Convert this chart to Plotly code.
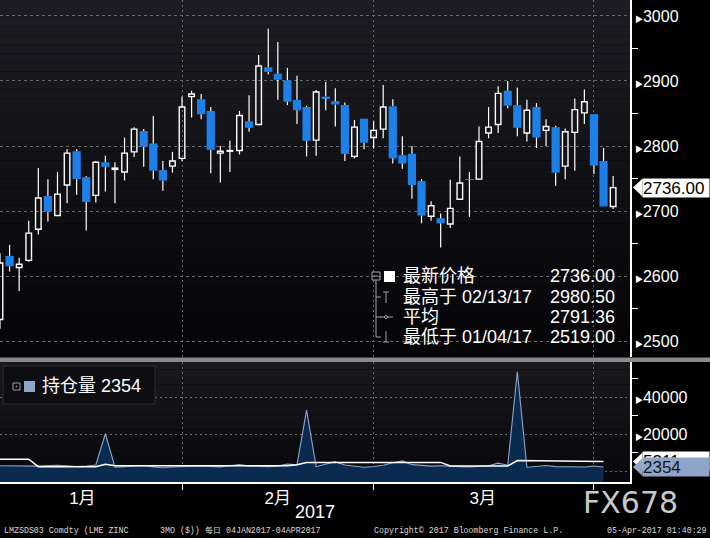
import plotly.graph_objects as go
import pandas as pd

# ---------------- data ----------------
dates = [d.strftime("%m/%d/%y") for d in pd.bdate_range("2017-01-04", "2017-04-04")]
opens = [2533, 2631, 2613, 2624, 2672, 2723, 2693, 2740, 2792, 2752,
         2724, 2775, 2764, 2760, 2791, 2823, 2804, 2763, 2769, 2781,
         2876, 2872, 2854, 2789, 2792, 2793, 2838, 2833, 2921, 2911,
         2901, 2871, 2860, 2809, 2876, 2869, 2863, 2784, 2842, 2813,
         2826, 2861, 2786, 2788, 2746, 2692, 2689, 2680, 2718, 2749,
         2749, 2820, 2833, 2885, 2863, 2820, 2860, 2824, 2829, 2769,
         2821, 2851, 2849, 2777, 2707]
highs = [2635, 2648, 2628, 2685, 2766, 2749, 2760, 2795, 2795, 2754,
         2777, 2785, 2775, 2813, 2829, 2826, 2846, 2777, 2791, 2876,
         2885, 2880, 2860, 2800, 2808, 2854, 2878, 2940, 2980.5, 2960,
         2920, 2908, 2862, 2886, 2899, 2889, 2867, 2840, 2842, 2838,
         2894, 2872, 2815, 2800, 2749, 2715, 2696, 2748, 2784, 2760,
         2830, 2860, 2892, 2900, 2890, 2871, 2866, 2841, 2831, 2827,
         2873, 2887, 2849, 2797, 2754]
lows = [2519, 2607, 2577, 2622, 2664, 2684, 2692, 2712, 2725, 2670,
        2713, 2730, 2712, 2747, 2783, 2768, 2749, 2731, 2759, 2777,
        2844, 2841, 2758, 2744, 2760, 2787, 2822, 2832, 2910, 2871,
        2863, 2834, 2784, 2785, 2855, 2830, 2777, 2781, 2795, 2796,
        2812, 2773, 2765, 2719, 2681, 2685, 2644, 2674, 2718, 2691,
        2748, 2812, 2820, 2858, 2815, 2807, 2797, 2800, 2739, 2749,
        2762, 2834, 2757, 2707, 2703]
closes = [2620, 2615, 2618, 2666, 2720, 2699, 2726, 2789, 2749, 2714,
          2775, 2768, 2766, 2789, 2826, 2799, 2762, 2747, 2777, 2860,
          2880, 2849, 2794, 2792, 2793, 2847, 2828, 2923, 2914, 2902,
          2868, 2855, 2808, 2883, 2873, 2864, 2788, 2829, 2805, 2824,
          2860, 2781, 2773, 2740, 2693, 2708, 2681, 2704, 2743, 2748,
          2807, 2829, 2881, 2862, 2828, 2855, 2813, 2830, 2759, 2822,
          2856, 2868, 2770, 2707, 2736]
# open interest (持仓量), first 64 sessions
open_interest = [3000, 2900, 2700, 2500, 2800, 3100, 3300, 3000, 2600, 2800,
                 3400, 20300, 2200, 2500, 2700, 3100, 2400, 1900, 2300, 2600,
                 2500, 2900, 2600, 2400, 3000, 3600, 2800, 2600, 2500, 2800,
                 3900, 3500, 33100, 2500, 3800, 5200, 3400, 2700, 2200, 2600,
                 3300, 4600, 5600, 3600, 3200, 2800, 3000, 2600, 2500, 2300,
                 2600, 3000, 4400, 3300, 53800, 2200, 2600, 3100, 2500, 2300,
                 2400, 2300, 2900, 2354]
oi_ref = [6500, 6500, 6500, 6500, 2500, 2500, 2500, 2500, 2500, 2500,
          2500, 3800, 3000, 3000, 3000, 3000, 3000, 3000, 3000, 3000,
          3000, 3000, 3000, 3000, 3000, 3000, 3000, 3000, 3000, 3000,
          3000, 3500, 4800, 4800, 4800, 4800, 4800, 4800, 4800, 4800,
          4800, 4800, 4800, 4800, 4800, 4800, 4800, 2900, 2900, 2900,
          2900, 2900, 2900, 2900, 5800, 5700, 5600, 5600, 5600, 5500,
          5500, 5400, 5311, 5311]
avg_label = 2791.36
month_labels = ["1月", "2月", "3月"]
month_label_pos = [8.6, 29.0, 50.4]
month_end_pos = [19, 39, 62]
price_ticks = [2500, 2600, 2700, 2800, 2900, 3000]
price_minor = [2550, 2650, 2750, 2850, 2950]
oi_ticks = [0, 20000, 40000]
oi_minor = [10000, 30000, 50000]

# ---------------- layout geometry ----------------
W, H = 710, 538
ML, MR, MT, MB = 0, 80, 0, 56
PW, PH = W - ML - MR, H - MT - MB


def px(x):
    return (x - ML) / PW


def py(y):
    return 1 - (y - MT) / PH


FONT = "Liberation Sans, Noto Sans CJK SC, sans-serif"
BLUE = "#1d7fe8"
xs = list(range(len(dates)))
price_range = [2475.4, 3024.6]
oi_range = [-5784, 59080]

fig = go.Figure()

# wicks (split so they never cross the hollow bodies)
wx, wy = [], []
for i in xs:
    top = max(opens[i], closes[i])
    bot = min(opens[i], closes[i])
    wx += [i, i, None, i, i, None]
    wy += [highs[i], top, None, bot, lows[i], None]
fig.add_trace(go.Scatter(x=wx, y=wy, mode="lines", line=dict(color="white", width=1.2),
                         hoverinfo="skip", showlegend=False, xaxis="x", yaxis="y"))

inc = [i for i in xs if closes[i] >= opens[i]]
dec = [i for i in xs if closes[i] < opens[i]]
fig.add_trace(go.Bar(x=inc, base=[opens[i] for i in inc], y=[closes[i] - opens[i] for i in inc],
                     width=0.58, marker=dict(color="rgba(0,0,0,0)", line=dict(color="white", width=1.4)),
                     customdata=[dates[i] for i in inc], hovertemplate="%{customdata}<extra></extra>",
                     showlegend=False, xaxis="x", yaxis="y"))
fig.add_trace(go.Bar(x=dec, base=[closes[i] for i in dec], y=[opens[i] - closes[i] for i in dec],
                     width=0.86, marker=dict(color=BLUE, line=dict(width=0)),
                     customdata=[dates[i] for i in dec], hovertemplate="%{customdata}<extra></extra>",
                     showlegend=False, xaxis="x", yaxis="y"))

# lower panel: open interest area
oi_x = xs[:len(open_interest)]
fig.add_trace(go.Scatter(x=oi_x, y=[oi_range[0]] * len(oi_x), mode="lines", line=dict(width=0),
                         hoverinfo="skip", showlegend=False, xaxis="x2", yaxis="y2"))
fig.add_trace(go.Scatter(x=oi_x, y=open_interest, mode="lines", fill="tonexty",
                         fillcolor="#0b2a50", line=dict(color="#8ea5c7", width=1.1),
                         showlegend=False, xaxis="x2", yaxis="y2"))
fig.add_trace(go.Scatter(x=oi_x, y=oi_ref, mode="lines", line=dict(color="white", width=1.5),
                         showlegend=False, xaxis="x2", yaxis="y2"))

tri = '<span style="font-size:8px">▶</span>'
grid_col = "#6a6a6a"

fig.update_layout(
    width=W, height=H, margin=dict(l=ML, r=MR, t=MT, b=MB),
    paper_bgcolor="black", plot_bgcolor="rgba(0,0,0,0)",
    barmode="overlay", showlegend=False,
    font=dict(family=FONT, color="white", size=16),
    xaxis=dict(domain=[0, 1], anchor="y", range=[0, PW / 9.58], showticklabels=False,
               tickvals=month_label_pos, ticks="", showgrid=False, zeroline=False,
               minor=dict(tickmode="array", tickvals=month_end_pos, showgrid=True,
                          gridcolor=grid_col, griddash="2px,3px", gridwidth=1, ticks="")),
    xaxis2=dict(domain=[0, 1], anchor="y2", matches="x", tickvals=month_label_pos,
                ticktext=month_labels, ticks="", showgrid=False, zeroline=False,
                tickfont=dict(size=17, color="white", family=FONT),
                showline=True, linecolor="white", linewidth=1.5,
                minor=dict(tickmode="array", tickvals=month_end_pos, showgrid=True,
                           gridcolor=grid_col, griddash="2px,3px", gridwidth=1,
                           ticks="outside", ticklen=6, tickcolor="white", tickwidth=1)),
    yaxis=dict(domain=[py(357), 1], anchor="x", side="right", range=price_range,
               tickvals=price_ticks, ticktext=[tri + str(v) for v in price_ticks],
               ticks="", showgrid=True, gridcolor=grid_col, griddash="3px,3px", gridwidth=1,
               zeroline=False, showline=True, linecolor="white", linewidth=1.5,
               tickfont=dict(size=16, color="white", family=FONT),
               minor=dict(tickmode="array", tickvals=price_minor, ticks="outside",
                          ticklen=6, tickcolor="white", tickwidth=1, showgrid=False)),
    yaxis2=dict(domain=[0, py(362)], anchor="x2", side="right", range=oi_range,
                tickvals=oi_ticks, ticktext=["" if v == 0 else tri + str(v) for v in oi_ticks],
                ticks="", showgrid=True, gridcolor=grid_col, griddash="2px,3px", gridwidth=1,
                zeroline=False, showline=True, linecolor="white", linewidth=1.5,
                tickfont=dict(size=16, color="white", family=FONT),
                minor=dict(tickmode="array", tickvals=oi_minor, ticks="outside",
                           ticklen=6, tickcolor="white", tickwidth=1, showgrid=False)),
)

shapes = []


def band(y0, y1, c0, c1, n):
    out = []
    for k in range(n):
        t = k / (n - 1)
        c = tuple(int(round(c0[j] + (c1[j] - c0[j]) * t)) for j in range(3))
        ya = y0 + (y1 - y0) * k / n
        yb = y0 + (y1 - y0) * (k + 1) / n
        out.append(dict(type="rect", xref="paper", yref="paper", x0=px(0), x1=px(630),
                        y0=py(yb), y1=py(ya), fillcolor="rgb(%d,%d,%d)" % c,
                        line=dict(width=0), layer="below"))
    return out


shapes += band(0, 357, (28, 28, 34), (5, 5, 8), 40)
shapes += band(362, 482, (24, 24, 29), (9, 9, 13), 16)
# separator band
shapes.append(dict(type="rect", xref="paper", yref="paper", x0=px(0), x1=px(710),
                   y0=py(362), y1=py(357.5), fillcolor="#8a8a8a", line=dict(width=0), layer="above"))

# lower legend box
shapes.append(dict(type="rect", xref="paper", yref="paper", x0=px(3), x1=px(155), y0=py(404), y1=py(366),
                   fillcolor="#0e0e12", line=dict(color="#2c2c32", width=1), layer="above"))
shapes.append(dict(type="rect", xref="paper", yref="paper", x0=px(13), x1=px(20), y0=py(390), y1=py(383),
                   line=dict(color="#9a9a9a", width=1), layer="above"))
shapes.append(dict(type="rect", xref="paper", yref="paper", x0=px(15.8), x1=px(17.2), y0=py(387.2), y1=py(385.8),
                   fillcolor="#9a9a9a", line=dict(width=0), layer="above"))
shapes.append(dict(type="rect", xref="paper", yref="paper", x0=px(24), x1=px(35), y0=py(392), y1=py(381),
                   fillcolor="#8ea5c7", line=dict(width=0), layer="above"))

# upper legend glyphs
G = "#a0a0a0"
rows = [276, 297, 317, 337]


def seg(x0, y0, x1, y1, col=G, w=1):
    return dict(type="line", xref="paper", yref="paper", x0=px(x0), y0=py(y0), x1=px(x1), y1=py(y1),
                line=dict(color=col, width=w), layer="above")


shapes.append(dict(type="rect", xref="paper", yref="paper", x0=px(372), x1=px(380), y0=py(280), y1=py(272),
                   line=dict(color=G, width=1), layer="above"))
shapes.append(seg(374, 276, 378, 276))
shapes.append(dict(type="rect", xref="paper", yref="paper", x0=px(384), x1=px(395), y0=py(282), y1=py(271),
                   fillcolor="white", line=dict(width=0), layer="above"))
shapes.append(seg(376, 280, 376, 337))
for r in rows[1:]:
    shapes.append(seg(376, r, 381, r))
shapes.append(seg(386, 292, 386, 303))
shapes.append(seg(383, 292, 389, 292))
shapes.append(seg(380, 317, 393, 317))
shapes.append(dict(type="circle", xref="paper", yref="paper", x0=px(384.5), x1=px(387.5), y0=py(318.5), y1=py(315.5),
                   fillcolor="#0a0a0e", line=dict(color=G, width=1), layer="above"))
shapes.append(seg(386, 331, 386, 342))
shapes.append(seg(383, 342, 389, 342))

# price tags (pointer triangles)
last_close = closes[-1]
tag_h_price = 9 * (price_range[1] - price_range[0]) / 357
tag_h_oi = 9 * (oi_range[1] - oi_range[0]) / 120


def pointer(yref, yc, hh, col):
    return dict(type="path", xref="paper", yref=yref,
                path="M %f,%f L %f,%f L %f,%f Z" % (px(633), yc, px(642.5), yc + hh, px(642.5), yc - hh),
                fillcolor=col, line=dict(width=0), layer="above")


shapes.append(pointer("y", last_close, tag_h_price, "white"))
shapes.append(pointer("y2", oi_ref[-1], tag_h_oi, "white"))
shapes.append(pointer("y2", open_interest[-1], tag_h_oi, "#8ea5c7"))

fig.update_layout(shapes=shapes)

ann = []


def txt(x, y, s, size=18, color="white", xanchor="left", family=FONT):
    ann.append(dict(xref="paper", yref="paper", x=px(x), y=py(y), text=s, showarrow=False,
                    xanchor=xanchor, yanchor="middle", font=dict(size=size, color=color, family=family)))


hi_i = highs.index(max(highs))
lo_i = lows.index(min(lows))
txt(401, rows[0], "最新价格")
txt(617, rows[0], "%.2f" % last_close, xanchor="right")
txt(401, rows[1], "最高于 %s" % dates[hi_i])
txt(617, rows[1], "%.2f" % max(highs), xanchor="right")
txt(401, rows[2], "平均")
txt(617, rows[2], "%.2f" % avg_label, xanchor="right")
txt(401, rows[3], "最低于 %s" % dates[lo_i])
txt(617, rows[3], "%.2f" % min(lows), xanchor="right")
txt(40, 386, "持仓量 %d" % open_interest[-1], size=18)


def tag(yref, yv, s, bg, fg):
    ann.append(dict(xref="paper", yref=yref, x=px(642), y=yv, text=s, showarrow=False,
                    xanchor="left", yanchor="middle", align="left", width=66, height=18,
                    bgcolor=bg, borderpad=0, font=dict(size=17, color=fg, family=FONT)))


tag("y", last_close, "%.2f" % last_close, "white", "black")
tag("y2", oi_ref[-1], "%d" % oi_ref[-1], "white", "black")
tag("y2", open_interest[-1], "%d" % open_interest[-1], "#8ea5c7", "#15151c")

txt(315, 512, "2017", size=18, xanchor="center")
txt(630, 502, "FX678", size=30, color="#c8c8c8", xanchor="center", family="DejaVu Sans, sans-serif")
MONO = "Liberation Mono, DejaVu Sans Mono, monospace"
txt(2, 530, "LMZSDS03 Comdty (LME ZINC", size=8.3, color="#d8d8d8", family=MONO)
txt(158, 530, "3MO ($))", size=8.3, color="#d8d8d8", family=MONO)
txt(203, 530, "每日 04JAN2017-04APR2017", size=8.3, color="#d8d8d8", family=MONO)
txt(372, 530, "Copyright© 2017 Bloomberg Finance L.P.", size=8.3, color="#d8d8d8", family=MONO)
txt(709, 530, "05-Apr-2017 01:40:29", size=8.3, color="#d8d8d8", xanchor="right", family=MONO)

fig.update_layout(annotations=ann)
fig.write_html("out.html", config={"displayModeBar": False},
               post_script="document.body.style.margin='0';document.body.style.background='black';")
